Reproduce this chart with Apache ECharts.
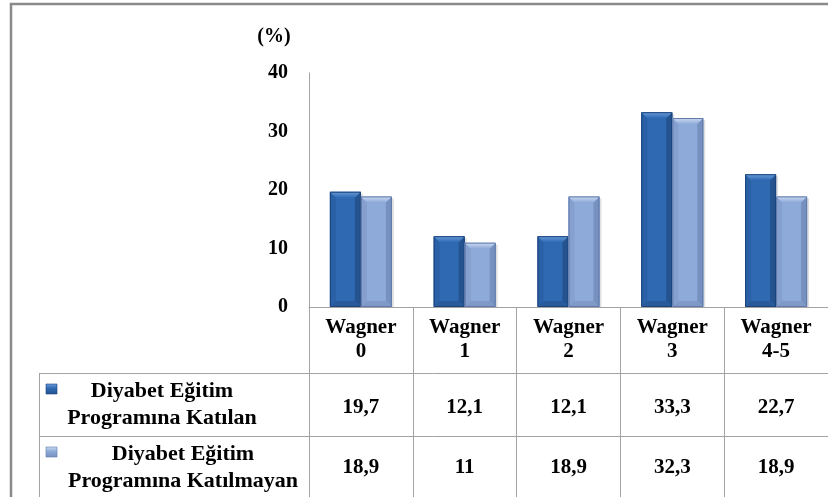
<!DOCTYPE html>
<html>
<head>
<meta charset="utf-8">
<script src="https://cdn.jsdelivr.net/npm/echarts@6/dist/echarts.min.js"></script>
<style>
  html, body { margin: 0; padding: 0; background: #fff; }
  #chart { width: 828px; height: 497px; }
</style>
</head>
<body>
<div id="chart"></div>
<script>
// Wagner grade distribution by diabetes-education participation (%)
const categories = ['Wagner\n0', 'Wagner\n1', 'Wagner\n2', 'Wagner\n3', 'Wagner\n4-5'];
const seriesNames = ['Diyabet Eğitim\nProgramına Katılan', 'Diyabet Eğitim\nProgramına Katılmayan'];
const katilan = [19.7, 12.1, 12.1, 33.3, 22.7];
const katilmayan = [18.9, 11, 18.9, 32.3, 18.9];
const yAxisName = '(%)';

const serif = "'Liberation Serif', 'Times New Roman', Times, serif";
const lineColor = '#a3a3a3';

// Turkish decimal comma
const fmt = v => String(v).replace('.', ',');

const gridLeft = 309, gridTop = 73, gridW = 529, gridH = 234;
const tableLeft = 39, row1 = 373, row2 = 436;
const BAR_W = 31;
const BEVEL = 6;

// colour sets for the bevelled columns
const palettes = [
  { body: '#2f69b2', left: '#2a60a5', right: '#24538f', topHi: '#6a9edc', bottom: '#295b9c', stroke: '#1c4278' },
  { body: '#8eaad8', left: '#859fcf', right: '#7690bf', topHi: '#cddcf4', bottom: '#8099c6', stroke: '#5f79a8' }
];

// bevelled column drawn on the category/value scales
function bevelBar(seriesIdx) {
  const p = palettes[seriesIdx];
  return function (params, api) {
    const idx = api.value(0);
    const val = api.value(1);
    const base = api.coord([idx, 0]);
    const top = api.coord([idx, val]);
    const x0 = base[0] + (seriesIdx === 0 ? -BAR_W : 0);
    const x1 = x0 + BAR_W;
    const yb = base[1];
    const yt = top[1];
    const b = Math.min(BEVEL, (yb - yt) / 2);
    return {
      type: 'group',
      children: [
        { // soft drop shadow
          type: 'rect',
          shape: { x: x0 + 2, y: yt + 2, width: BAR_W, height: yb - yt - 2 },
          style: { fill: 'rgba(0,0,0,0.12)' }
        },
        {
          type: 'rect',
          shape: { x: x0, y: yt, width: BAR_W, height: yb - yt },
          style: { fill: p.body }
        },
        {
          type: 'polygon',
          shape: { points: [[x0, yt], [x0 + b, yt + b], [x0 + b, yb - b], [x0, yb]] },
          style: { fill: p.left }
        },
        {
          type: 'polygon',
          shape: { points: [[x1, yt], [x1 - b, yt + b], [x1 - b, yb - b], [x1, yb]] },
          style: { fill: p.right }
        },
        {
          type: 'polygon',
          shape: { points: [[x0, yb], [x0 + b, yb - b], [x1 - b, yb - b], [x1, yb]] },
          style: { fill: p.bottom }
        },
        {
          type: 'polygon',
          shape: { points: [[x0, yt], [x1, yt], [x1 - b, yt + b], [x0 + b, yt + b]] },
          style: {
            fill: new echarts.graphic.LinearGradient(0, 0, 0, 1, [
              { offset: 0, color: p.topHi },
              { offset: 1, color: p.body }
            ])
          }
        },
        {
          type: 'rect',
          shape: { x: x0 + 0.5, y: yt + 0.5, width: BAR_W - 1, height: yb - yt - 1 },
          style: { fill: 'none', stroke: p.stroke, lineWidth: 1 }
        }
      ]
    };
  };
}

const chart = echarts.init(document.getElementById('chart'), null, { renderer: 'canvas' });

function legendBlock(iconY, textY, name, p, cx) {
  return [
    {
      type: 'rect',
      shape: { x: 46, y: iconY, width: 11, height: 10 },
      style: {
        fill: new echarts.graphic.LinearGradient(0, 0, 0, 1, [
          { offset: 0, color: p.topHi },
          { offset: 0.45, color: p.body },
          { offset: 1, color: p.right }
        ]),
        stroke: p.stroke, lineWidth: 0.6
      }
    },
    {
      type: 'text',
      x: cx, y: textY,
      style: {
        text: name,
        fontFamily: serif,
        fontWeight: 'bold',
        fontSize: 22,
        fill: '#000',
        align: 'center',
        verticalAlign: 'middle',
        lineHeight: 27
      }
    }
  ];
}

const option = {
  backgroundColor: '#fff',
  animation: false,
  grid: { left: gridLeft, top: gridTop, width: gridW, height: gridH, containLabel: false },
  xAxis: [
    {
      type: 'category',
      data: categories,
      axisLine: { show: true, lineStyle: { color: lineColor, width: 1 } },
      axisTick: { show: true, length: 200, lineStyle: { color: lineColor, width: 1 } },
      axisLabel: {
        margin: 9,
        fontFamily: serif, fontWeight: 'bold', fontSize: 21, lineHeight: 24,
        color: '#000'
      }
    },
    {
      type: 'category',
      data: categories,
      position: 'bottom',
      offset: row1 - (gridTop + gridH),
      axisLine: { show: false },
      axisTick: { show: false },
      axisLabel: {
        margin: 25,
        lineHeight: 20,
        fontFamily: serif, fontWeight: 'bold', fontSize: 21, color: '#000',
        formatter: (v, i) => fmt(katilan[i])
      }
    },
    {
      type: 'category',
      data: categories,
      position: 'bottom',
      offset: row2 - (gridTop + gridH),
      axisLine: { show: false },
      axisTick: { show: false },
      axisLabel: {
        margin: 22,
        lineHeight: 20,
        fontFamily: serif, fontWeight: 'bold', fontSize: 21, color: '#000',
        formatter: (v, i) => fmt(katilmayan[i])
      }
    }
  ],
  yAxis: {
    type: 'value',
    min: 0, max: 40, interval: 10,
    axisLine: { show: true, lineStyle: { color: lineColor, width: 1 } },
    axisTick: { show: false },
    splitLine: { show: false },
    axisLabel: {
      margin: 21,
      fontFamily: serif, fontWeight: 'bold', fontSize: 20, color: '#000'
    }
  },
  series: [
    {
      name: seriesNames[0],
      type: 'custom',
      renderItem: bevelBar(0),
      encode: { x: 0, y: 1 },
      data: katilan.map((v, i) => [i, v])
    },
    {
      name: seriesNames[1],
      type: 'custom',
      renderItem: bevelBar(1),
      encode: { x: 0, y: 1 },
      data: katilmayan.map((v, i) => [i, v])
    }
  ],
  graphic: [
    // outer frame
    {
      type: 'rect',
      shape: { x: 11, y: 4, width: 900, height: 600 },
      style: { fill: 'none', stroke: '#8a8a8a', lineWidth: 2.5 },
      silent: true
    },
    // axis unit
    {
      type: 'text',
      x: 274, y: 37,
      style: {
        text: yAxisName,
        fontFamily: serif, fontWeight: 'bold', fontSize: 20,
        fill: '#000', align: 'center', verticalAlign: 'middle'
      }
    },
    // data table rules
    { type: 'line', shape: { x1: tableLeft, y1: row1 + 0.5, x2: 828, y2: row1 + 0.5 }, style: { stroke: lineColor, lineWidth: 1 } },
    { type: 'line', shape: { x1: tableLeft, y1: row2 + 0.5, x2: 828, y2: row2 + 0.5 }, style: { stroke: lineColor, lineWidth: 1 } },
    { type: 'line', shape: { x1: tableLeft + 0.5, y1: row1, x2: tableLeft + 0.5, y2: 500 }, style: { stroke: lineColor, lineWidth: 1 } },
    ...legendBlock(384, 405, seriesNames[0], palettes[0], 162),
    ...legendBlock(447, 468, seriesNames[1], palettes[1], 183)
  ]
};

chart.setOption(option);
</script>
</body>
</html>
